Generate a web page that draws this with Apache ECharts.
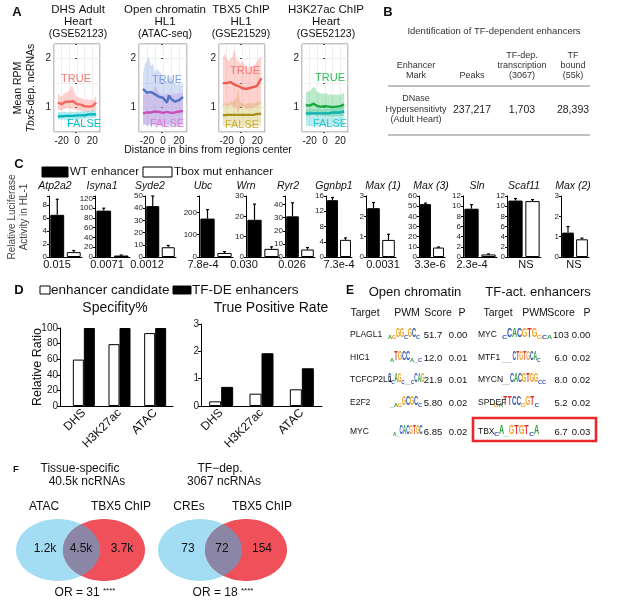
<!DOCTYPE html>
<html><head><meta charset="utf-8">
<script src="https://cdn.jsdelivr.net/npm/echarts@6/dist/echarts.min.js"></script>
<style>html,body{margin:0;padding:0;background:#fff}#c{width:617px;height:608px}</style>
</head><body><div id="c"></div>
<script>
const FONT = 'Liberation Sans, Arial, sans-serif';

// ---------------- Panel A data ----------------
const aBins = [-25,-22.5,-20,-17.5,-15,-12.5,-10,-7.5,-5,-2.5,0,2.5,5,7.5,10,12.5,15,17.5,20,22.5,25];
const aTitles = [['DHS Adult','Heart','(GSE52123)'],['Open chromatin','HL1','(ATAC-seq)'],['TBX5 ChIP','HL1','(GSE21529)'],['H3K27ac ChIP','Heart','(GSE52123)']];
const aGroupLabels = ['TRUE','FALSE'];
const a1TrueMean = [1.10,1.08,1.07,1.10,1.12,1.15,1.12,1.10,1.13,1.10,1.07,1.05,1.06,1.04,1.03,1.05,1.02,1.04,1.03,1.05,1.10];
const a1TrueHi   = [1.28,1.25,1.22,1.28,1.30,1.32,1.35,1.45,1.40,1.28,1.22,1.20,1.20,1.18,1.15,1.18,1.15,1.17,1.15,1.18,1.25];
const a1TrueLo   = [0.95,0.95,0.94,0.96,0.98,1.00,0.98,0.97,0.98,0.96,0.95,0.94,0.94,0.93,0.92,0.93,0.92,0.93,0.92,0.94,0.96];
const a1FalseMean= [0.82,0.83,0.82,0.84,0.83,0.82,0.83,0.84,0.83,0.82,0.84,0.83,0.84,0.85,0.84,0.85,0.86,0.85,0.86,0.87,0.86];
const a1FalseHi  = [0.90,0.91,0.90,0.92,0.91,0.90,0.91,0.92,0.91,0.90,0.92,0.91,0.92,0.93,0.92,0.93,0.94,0.93,0.94,0.95,0.94];
const a1FalseLo  = [0.75,0.76,0.75,0.76,0.75,0.75,0.76,0.77,0.76,0.75,0.77,0.76,0.77,0.78,0.77,0.78,0.78,0.78,0.79,0.79,0.79];
const a2TrueMean = [1.38,1.40,1.30,1.27,1.32,1.30,1.27,1.30,1.22,1.25,1.20,1.15,1.10,1.25,1.18,1.20,1.12,1.08,1.15,1.18,1.22];
const a2TrueHi   = [1.70,1.90,1.95,2.05,1.85,1.90,1.70,1.80,1.75,1.70,1.60,1.55,1.55,1.60,1.65,1.55,1.50,1.45,1.50,1.45,1.50];
const a2TrueLo   = [0.65,0.65,0.62,0.63,0.65,0.64,0.62,0.66,0.63,0.62,0.60,0.62,0.60,0.63,0.62,0.63,0.60,0.60,0.62,0.63,0.65];
const a2FalseMean= [0.88,0.89,0.90,0.89,0.90,0.91,0.92,0.90,0.91,0.90,0.89,0.90,0.91,0.90,0.89,0.91,0.90,0.91,0.92,0.91,0.93];
const a2FalseHi  = [1.25,1.28,1.25,1.30,1.32,1.35,1.45,1.38,1.30,1.28,1.25,1.27,1.30,1.26,1.25,1.28,1.27,1.30,1.28,1.30,1.32];
const a2FalseLo  = [0.65,0.66,0.65,0.66,0.66,0.67,0.66,0.65,0.66,0.65,0.66,0.65,0.66,0.66,0.65,0.66,0.66,0.67,0.66,0.67,0.68];
const a3TrueMean = [1.50,1.52,1.50,1.48,1.52,1.50,1.47,1.45,1.44,1.42,1.40,1.43,1.38,1.35,1.40,1.37,1.42,1.40,1.45,1.48,1.60];
const a3TrueHi   = [2.05,2.10,2.00,1.95,2.00,2.05,2.20,2.00,1.95,1.90,1.95,1.90,1.85,1.80,1.85,1.80,1.85,1.90,1.95,2.00,2.05];
const a3TrueLo   = [1.02,1.05,1.03,1.02,1.05,1.03,1.00,1.02,0.88,1.02,1.00,1.03,0.98,0.97,1.00,0.98,1.00,1.02,1.03,1.05,1.08];
const a3FalseMean= [0.84,0.85,0.85,0.84,0.85,0.86,0.85,0.84,0.85,0.86,0.85,0.84,0.85,0.86,0.85,0.86,0.85,0.86,0.87,0.86,0.87];
const a3FalseHi  = [1.08,1.10,1.08,1.10,1.12,1.15,1.12,1.20,1.40,1.10,1.10,1.08,1.07,1.10,1.08,1.10,1.08,1.10,1.12,1.10,1.12];
const a3FalseLo  = [0.62,0.62,0.61,0.62,0.62,0.63,0.62,0.62,0.61,0.62,0.62,0.62,0.61,0.62,0.62,0.62,0.62,0.63,0.62,0.63,0.63];
const a4TrueMean = [1.05,1.07,1.04,1.06,1.08,1.05,1.03,1.06,1.02,1.04,1.03,1.05,1.02,1.04,1.01,1.03,1.02,1.04,1.03,1.05,1.06];
const a4TrueHi   = [1.30,1.35,1.32,1.38,1.42,1.40,1.30,1.32,1.28,1.30,1.27,1.30,1.25,1.28,1.25,1.27,1.25,1.27,1.26,1.28,1.30];
const a4TrueLo   = [0.82,0.84,0.82,0.85,0.86,0.84,0.82,0.85,0.83,0.84,0.82,0.84,0.82,0.83,0.81,0.82,0.82,0.83,0.82,0.83,0.84];
const a4FalseMean= [0.88,0.87,0.88,0.89,0.88,0.87,0.88,0.89,0.88,0.87,0.88,0.89,0.88,0.89,0.90,0.89,0.90,0.91,0.90,0.91,0.92];
const a4FalseHi  = [0.97,0.96,0.97,0.98,0.97,0.96,0.97,0.98,0.97,0.96,0.97,0.98,0.97,0.98,0.99,0.98,0.99,1.00,0.99,1.00,1.01];
const a4FalseLo  = [0.62,0.62,0.63,0.62,0.62,0.63,0.62,0.62,0.63,0.62,0.62,0.63,0.62,0.62,0.63,0.62,0.62,0.63,0.62,0.62,0.63];
const aXTickLabels = [-20,0,20];
const aYTickLabels = [1,2];

// ---------------- Panel B data ----------------
const bTitle = 'Identification of TF-dependent enhancers';
const bHeaders = [['Enhancer','Mark'],['Peaks'],['TF-dep.','transcription','(3067)'],['TF','bound','(55k)']];
const bRow = [['DNase','Hypersensitivty','(Adult Heart)'],['237,217'],['1,703'],['28,393']];

// ---------------- Panel C data ----------------
const cGenes  = ['Atp2a2','Isyna1','Syde2','Ubc','Wrn','Ryr2','Ggnbp1','Max (1)','Max (3)','Sln','Scaf11','Max (2)'];
const cWT     = [6.5, 95, 41.7, 172, 18.3, 31, 14.9, 2.4, 52, 9.5, 11.1, 1.2];
const cWTErr  = [8.9, 100, 50, 212, 26, 41.3, 15.6, 2.68, 53, 10.3, 11.5, 1.5];
const cMut    = [0.75, 3, 8, 18, 4, 5.7, 4.5, 0.84, 9.3, 0.5, 11.0, 0.87];
const cMutErr = [1.0, 4, 9.5, 24, 5, 7.2, 5, 1.12, 9.8, 0.6, 11.3, 0.93];
const cPvals  = ['0.015','0.0071','0.0012','7.8e-4','0.030','0.026','7.3e-4','0.0031','3.3e-6','2.3e-4','NS','NS'];
const cYMax   = [9.4, 125, 50, 273, 30, 46.5, 16, 3, 60, 12, 12, 3];
const cYStep  = [2, 20, 10, 100, 10, 10, 4, 1, 10, 2, 2, 1];
const cLegend = ['WT enhancer','Tbox mut enhancer'];

// ---------------- Panel D data ----------------
const dCats = ['DHS','H3K27ac','ATAC'];
const dSpecCand = [59.5, 79.3, 93.5];
const dSpecTF   = [100, 100, 100];
const dTPRCand  = [0.17, 0.45, 0.61];
const dTPRTF    = [0.70, 1.93, 1.38];
const dLegend = ['enhancer candidate','TF-DE enhancers'];
const dTitles = ['Specifity%','True Positive Rate'];

// ---------------- Panel E data ----------------
const eHeads = ['Open chromatin','TF-act. enhancers'];
const eCols = ['Target','PWM','Score','P'];
const eLeftTargets  = ['PLAGL1','HIC1','TCFCP2L1','E2F2','MYC'];
const eLeftMotifs   = ['agGGcGCc','aTGCCa-c','CcAGc--cCAG','-agGCGCc','a-CACGTGC'];
const eLeftScores   = ['51.7','12.0','21.9','5.80','6.85'];
const eLeftP        = ['0.00','0.01','0.01','0.02','0.02'];
const eRightTargets = ['MYC','MTF1','MYCN','SPDEF','TBX'];
const eRightMotifs  = ['cCACGTGgca','---CTGTGCAc','--CACGTGGcc','gaTTCCgGTc','cA-GTGTcA'];
const eRightScores  = ['103','6.0','8.0','5.2','6.7'];
const eRightP       = ['0.00','0.02','0.02','0.02','0.03'];

// ---------------- Panel F data ----------------
const fTitles = [['Tissue-specific','40.5k ncRNAs'],['TF\u2212dep.','3067 ncRNAs']];
const fSetNames = [['ATAC','TBX5 ChIP'],['CREs','TBX5 ChIP']];
const fCounts = [['1.2k','4.5k','3.7k'],['73','72','154']];
const fOR = ['31','18'];

// =====================================================
const grids=[], xAxes=[], yAxes=[], series=[], graphics=[];
function T(x,y,text,o){o=o||{};graphics.push({type:'text',x:x,y:y,rotation:o.rot||0,silent:true,z:100,
  style:{text:text,fontFamily:FONT,fontSize:o.fs||10,fontWeight:o.fw||'normal',fontStyle:o.it?'italic':'normal',
  fill:o.c||'#111',align:o.a||'center',verticalAlign:o.va||'middle',rich:o.rich}});}
function L(x1,y1,x2,y2,c,w){graphics.push({type:'line',silent:true,z:90,shape:{x1,y1,x2,y2},style:{stroke:c||'#000',lineWidth:w||1}});}
function R(x,y,w,h,fill,stroke,lw){graphics.push({type:'rect',silent:true,z:90,shape:{x,y,width:w,height:h},style:{fill:fill,stroke:stroke||null,lineWidth:lw||1}});}
const pairs=(xs,ys)=>xs.map((x,i)=>[x,ys[i]]);

// ---------------- Panel A ----------------
T(17,12,'A',{fs:13,fw:'bold'});
const aPanels=[
 {left:54,width:46,cx:78, tM:a1TrueMean,tL:a1TrueLo,tH:a1TrueHi,fM:a1FalseMean,fL:a1FalseLo,fH:a1FalseHi,tc:'#F8766D',fc:'#00BFC4',tl:'#F0685E',fl:'#00B3BA',tp:[76,79],fp:[84,124]},
 {left:139,width:48,cx:165,tM:a2TrueMean,tL:a2TrueLo,tH:a2TrueHi,fM:a2FalseMean,fL:a2FalseLo,fH:a2FalseHi,tc:'#7C9EE0',fc:'#E479D8',tl:'#4F74C4',fl:'#C84FB8',tp:[167,80],fp:[167,124]},
 {left:219,width:46,cx:241,tM:a3TrueMean,tL:a3TrueLo,tH:a3TrueHi,fM:a3FalseMean,fL:a3FalseLo,fH:a3FalseHi,tc:'#F8766D',fc:'#C8B23A',tl:'#EC5A50',fl:'#A8901A',tp:[245,71],fp:[242,125]},
 {left:302,width:46,cx:326,tM:a4TrueMean,tL:a4TrueLo,tH:a4TrueHi,fM:a4FalseMean,fL:a4FalseLo,fH:a4FalseHi,tc:'#2DBE5A',fc:'#2CC6CB',tl:'#17A83F',fl:'#12AEB4',tp:[330,78],fp:[330,124]}
];
function bandSeries(i,xs,lo,hi,col){
  return {type:'custom',xAxisIndex:i,yAxisIndex:i,clip:true,silent:true,z:1,
    data:xs.map((x,j)=>[x,lo[j],hi[j]]),encode:{x:0,y:[1,2]},
    renderItem:(params,api)=>{
      if(params.dataIndex!==0) return null;
      const top=[],bot=[];
      for(let j=0;j<xs.length;j++){top.push(api.coord([xs[j],hi[j]]));bot.push(api.coord([xs[j],lo[j]]));}
      return {type:'polygon',shape:{points:top.concat(bot.reverse())},style:{fill:echarts.color.modifyAlpha(col,0.33)}};
    }};
}
aPanels.forEach((p,i)=>{
  grids.push({left:p.left,top:44,width:p.width,height:88,show:true,borderColor:'#8a8a8a',borderWidth:1,backgroundColor:'#fff'});
  xAxes.push({type:'value',gridIndex:i,min:-30,max:30,interval:10,axisLine:{show:false},axisTick:{show:false},
    axisLabel:{fontSize:10,color:'#222',margin:4,fontFamily:FONT,formatter:v=>aXTickLabels.indexOf(v)>=0?String(v):''},
    splitLine:{show:true,lineStyle:{color:'#ebebeb',width:0.8}}});
  yAxes.push({type:'value',gridIndex:i,min:0.5,max:2.3,interval:0.5,axisLine:{show:false},
    axisTick:{show:true,length:2,lineStyle:{color:'#555'}},
    axisLabel:{fontSize:10,color:'#222',margin:3,fontFamily:FONT,formatter:v=>aYTickLabels.indexOf(v)>=0?String(v):''},
    splitLine:{show:true,lineStyle:{color:'#ebebeb',width:0.8}}});
  series.push(bandSeries(i,aBins,p.fL,p.fH,p.fc));
  series.push(bandSeries(i,aBins,p.tL,p.tH,p.tc));
  [[p.fM,p.fl],[p.tM,p.tl]].forEach(g=>{
    series.push({type:'line',xAxisIndex:i,yAxisIndex:i,data:pairs(aBins,g[0]),symbol:'none',lineStyle:{color:g[1],width:2.4},silent:true,z:3});
  });
  T(p.cx,10,aTitles[i][0],{fs:11.5});
  T(p.cx,22,aTitles[i][1],{fs:11.5});
  T(p.cx,34,aTitles[i][2],{fs:10.5});
  T(p.tp[0],p.tp[1],aGroupLabels[0],{fs:11,c:p.tc});
  T(p.fp[0],p.fp[1],aGroupLabels[1],{fs:11,c:p.fc});
});
T(18,88,'Mean RPM',{fs:10.5,rot:Math.PI/2});
T(31,88,'{i|Tbx5}-dep. ncRNAs',{fs:10.5,rot:Math.PI/2,rich:{i:{fontStyle:'italic',fontSize:10.5,fontFamily:FONT,fill:'#111'}}});
T(208,150,'Distance in bins from regions center',{fs:10.5});

// ---------------- Panel B ----------------
T(388,12,'B',{fs:13,fw:'bold'});
T(494,31,bTitle,{fs:9.5,c:'#333'});
const bColX=[416,472,522,573];
bHeaders.forEach((h,j)=>{const n=h.length;h.forEach((s,k)=>T(bColX[j],76-(n-1-k)*10,s,{fs:9,c:'#333'}));});
L(388,86,590,86,'#aaa',1.4);
T(bColX[0],99,bRow[0][0],{fs:9,c:'#333'});
T(bColX[0],110,bRow[0][1],{fs:9,c:'#333'});
T(bColX[0],120,bRow[0][2],{fs:9,c:'#333'});
for(let j=1;j<4;j++) T(bColX[j],110,bRow[j][0],{fs:10.5,c:'#222'});
L(388,135,590,135,'#aaa',1.4);

// ---------------- Panel C ----------------
T(19,164,'C',{fs:13,fw:'bold'});
R(42,167,26,10,'#000','#000',1);
T(70,172,cLegend[0],{fs:11.5,a:'left'});
R(143,167,29,10,'#fff','#000',1);
T(174,172,cLegend[1],{fs:11.5,a:'left'});
T(12,217,'Relative Luciferase',{fs:10,c:'#444',rot:Math.PI/2});
T(24,217,'Activity in HL-1',{fs:10,c:'#444',rot:Math.PI/2});
const cLeft=[49,95,145,199,246,285,326,366,419,463,507,561];
const cWidth=[33,35,31,34,34,30,26,30,26,34,34,28];
const cTitleX=[55,102,150,203,246,288,334,383,431,477,524,573];
const cPX=[57,107,147,203,244,292,339,383,430,472,526,574];
function errRender(params,api){
  const a=api.coord([api.value(0),api.value(1)]), b=api.coord([api.value(0),api.value(2)]);
  return {type:'group',children:[
    {type:'line',shape:{x1:a[0],y1:a[1],x2:b[0],y2:b[1]},style:{stroke:'#000',lineWidth:1.2}},
    {type:'line',shape:{x1:b[0]-1.5,y1:b[1],x2:b[0]+1.5,y2:b[1]},style:{stroke:'#000',lineWidth:1.2}}]};
}
cGenes.forEach((g,k)=>{
  const gi=grids.length;
  grids.push({left:cLeft[k],top:196,width:cWidth[k],height:61});
  xAxes.push({type:'category',gridIndex:gi,data:['WT','mut'],axisLine:{show:true,lineStyle:{color:'#000',width:1}},axisTick:{show:false},axisLabel:{show:false},splitLine:{show:false}});
  yAxes.push({type:'value',gridIndex:gi,min:0,max:cYMax[k],interval:cYStep[k],
    axisLine:{show:true,lineStyle:{color:'#000',width:1}},axisTick:{show:true,length:2,lineStyle:{color:'#000'}},
    axisLabel:{fontSize:8,color:'#222',margin:2,fontFamily:FONT,formatter:v=>{const r=v/cYStep[k];return Math.abs(r-Math.round(r))<1e-6?String(v):'';}},
    splitLine:{show:false}});
  series.push({type:'bar',xAxisIndex:gi,yAxisIndex:gi,barWidth:'84%',silent:true,
    data:[{value:cWT[k],itemStyle:{color:'#000',borderColor:'#000',borderWidth:1}},{value:cMut[k],itemStyle:{color:'#fff',borderColor:'#000',borderWidth:1}}]});
  series.push({type:'custom',xAxisIndex:gi,yAxisIndex:gi,silent:true,z:4,encode:{x:0,y:1},renderItem:errRender,
    data:[[0,cWT[k],cWTErr[k]],[1,cMut[k],cMutErr[k]]]});
  T(cTitleX[k],186,g,{fs:10.5,it:true});
  T(cPX[k],265,cPvals[k],{fs:11});
});

// ---------------- Panel D ----------------
T(19,290,'D',{fs:13,fw:'bold'});
R(40,286,10,8,'#fff','#000',1);
T(51,290,dLegend[0],{fs:13.5,a:'left'});
R(173,286,18,8,'#000','#000',1);
T(192,290,dLegend[1],{fs:13.5,a:'left'});
T(115,308,dTitles[0],{fs:14});
T(271,308,dTitles[1],{fs:14});
T(38,367,'Relative Ratio',{fs:12.5,rot:Math.PI/2});
const dPanels=[{left:66,width:107,top:328,height:78,max:100,step:20,cand:dSpecCand,tf:dSpecTF,bw:11,off:6},
               {left:201,width:121,top:324,height:82,max:3,step:1,cand:dTPRCand,tf:dTPRTF,bw:12,off:0}];
dPanels.forEach(p=>{
  const gi=grids.length;
  grids.push({left:p.left,top:p.top,width:p.width,height:p.height});
  xAxes.push({type:'category',gridIndex:gi,data:dCats,axisLine:{show:true,lineStyle:{color:'#000',width:1}},axisTick:{show:false},
    axisLabel:{rotate:45,fontSize:12,color:'#111',fontFamily:FONT,margin:5,interval:0}});
  yAxes.push({type:'value',gridIndex:gi,min:0,max:p.max,interval:p.step,offset:p.off,
    axisLine:{show:true,lineStyle:{color:'#000',width:1}},axisTick:{show:true,length:3,lineStyle:{color:'#000'}},
    axisLabel:{fontSize:10,color:'#222',margin:2,fontFamily:FONT},splitLine:{show:false}});
  series.push({type:'bar',xAxisIndex:gi,yAxisIndex:gi,barWidth:p.bw,barGap:'0%',silent:true,data:p.cand,itemStyle:{color:'#fff',borderColor:'#000',borderWidth:1}});
  series.push({type:'bar',xAxisIndex:gi,yAxisIndex:gi,barWidth:p.bw,barGap:'0%',silent:true,data:p.tf,itemStyle:{color:'#000',borderColor:'#000',borderWidth:1}});
});
L(60,406.5,66,406.5,'#000',1);

// ---------------- Panel E ----------------
T(350,291,'E',{fs:12,fw:'bold'});
T(415,292,eHeads[0],{fs:13});
T(538,292,eHeads[1],{fs:13});
const eColL=[365,407,438,462], eColR=[498,535,561,587];
eCols.forEach((c,j)=>{T(eColL[j],313,c,{fs:10.5});T(eColR[j],313,c,{fs:10.5});});
const eRowY=[335,358,380,403,432];
const LOGO_COL={A:'#2E9E3E',C:'#2F57B0',G:'#F2A52A',T:'#E0312F'};
function drawLogo(x0,yBase,motif,step){
  let x=x0;
  for(const ch of motif){
    if(ch==='-'){L(x,yBase-0.5,x+step,yBase-0.5,'#c8c8c8',0.8);x+=step;continue;}
    const up=ch===ch.toUpperCase(), Lt=ch.toUpperCase(), h=up?12:4;
    graphics.push({type:'text',x:x+step/2,y:yBase,scaleX:step/7,scaleY:h/9,silent:true,z:95,
      style:{text:Lt,fontSize:10,fontWeight:'bold',fontFamily:FONT,fill:LOGO_COL[Lt],align:'center',verticalAlign:'bottom'}});
    x+=step;
  }
}
const eLogoL=[[388,4],[390,4],[388,3.3],[390,4],[393,3.3]];
const eLogoR=[[502,5],[502,3.5],[502,4],[494,4.5],[494,5]];
eRowY.forEach((y,r)=>{
  T(350,y,eLeftTargets[r],{fs:8.5,a:'left'});
  drawLogo(eLogoL[r][0],y+5,eLeftMotifs[r],eLogoL[r][1]);
  T(433,y,eLeftScores[r],{fs:9.5});
  T(458,y,eLeftP[r],{fs:9.5});
  T(478,y,eRightTargets[r],{fs:8.5,a:'left'});
  drawLogo(eLogoR[r][0],y+5,eRightMotifs[r],eLogoR[r][1]);
  T(561,y,eRightScores[r],{fs:9.5});
  T(581,y,eRightP[r],{fs:9.5});
});
graphics.push({type:'rect',silent:true,z:99,shape:{x:473,y:418,width:123,height:23},style:{fill:null,stroke:'#E8282B',lineWidth:2.6}});

// ---------------- Panel F ----------------
T(16,469,'F',{fs:9.5,fw:'bold'});
function ellipse(cx,cy,rx,ry,t0,t1,n){const p=[];for(let k=0;k<=n;k++){const t=t0+(t1-t0)*k/n;p.push([cx+rx*Math.cos(t),cy+ry*Math.sin(t)]);}return p;}
function inside(pt,e){const dx=(pt[0]-e[0])/e[2],dy=(pt[1]-e[1])/e[3];return dx*dx+dy*dy<=1.0001;}
const fVenn=[{b:[58,550,42,31],r:[104,550,41,31],tx:[80,87],nx:[44,121],cx:[45,81,122],ox:85},
             {b:[200,550,42,31],r:[246,550,41,31],tx:[220,224],nx:[189,262],cx:[188,222,262],ox:223}];
fVenn.forEach((v,i)=>{
  graphics.push({type:'polygon',silent:true,z:80,shape:{points:ellipse(v.b[0],v.b[1],v.b[2],v.b[3],0,2*Math.PI,120)},style:{fill:'#A3DDF4'}});
  graphics.push({type:'polygon',silent:true,z:81,shape:{points:ellipse(v.r[0],v.r[1],v.r[2],v.r[3],0,2*Math.PI,120)},style:{fill:'#EF5059'}});
  const lens=ellipse(v.r[0],v.r[1],v.r[2],v.r[3],Math.PI/2,3*Math.PI/2,200).filter(p=>inside(p,v.b))
    .concat(ellipse(v.b[0],v.b[1],v.b[2],v.b[3],-Math.PI/2,Math.PI/2,200).filter(p=>inside(p,v.r)));
  graphics.push({type:'polygon',silent:true,z:82,shape:{points:lens},style:{fill:'#8C86A6'}});
  T(v.tx[0],469,fTitles[i][0],{fs:12});
  T(v.tx[1],482,fTitles[i][1],{fs:12});
  T(v.nx[0],507,fSetNames[i][0],{fs:12});
  T(v.nx[1],507,fSetNames[i][1],{fs:12});
  fCounts[i].forEach((c,j)=>T(v.cx[j],549,c,{fs:12}));
  T(v.ox,593,'OR = '+fOR[i]+' {s|****}',{fs:12,rich:{s:{fontSize:8,fontFamily:FONT,fill:'#111',padding:[0,0,5,0]}}});
});

const chart=echarts.init(document.getElementById('c'),null,{renderer:'canvas'});
chart.setOption({animation:false,backgroundColor:'#fff',grid:grids,xAxis:xAxes,yAxis:yAxes,series:series,graphic:graphics});
</script></body></html>
